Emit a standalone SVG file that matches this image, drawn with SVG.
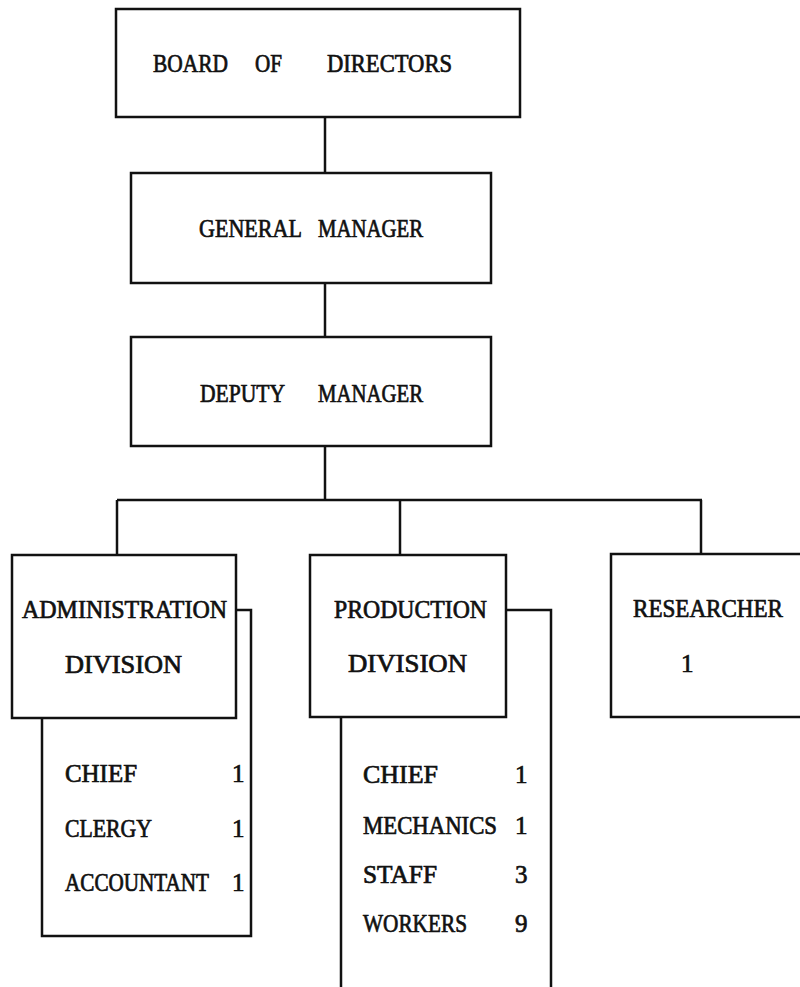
<svg xmlns="http://www.w3.org/2000/svg" width="800" height="987" viewBox="0 0 800 987">
  <style>
    .box { fill: none; stroke: #111; stroke-width: 2.5; }
    .wire { fill: none; stroke: #111; stroke-width: 2.5; }
    .lbl { font-family: "Liberation Serif", "DejaVu Serif", serif; font-size: 25px; fill: #111; stroke: #111; stroke-width: 0.7; }
    .tight { font-size: 22px; stroke-width: 0.65; }
  </style>
  <rect width="800" height="987" fill="#fff"/>

  <!-- connectors -->
  <g id="connectors">
    <path class="wire" d="M325 117 V173"/>
    <path class="wire" d="M325 283 V337"/>
    <path class="wire" d="M325 446 V500"/>
    <path class="wire" d="M117 500 H702"/>
    <path class="wire" d="M117 500 V555"/>
    <path class="wire" d="M400 500 V555"/>
    <path class="wire" d="M701 500 V554"/>
  </g>

  <g id="board">
    <rect class="box" x="116" y="9" width="404" height="108"/>
    <text class="lbl" x="153" y="72" textLength="75" lengthAdjust="spacingAndGlyphs">BOARD</text>
    <text class="lbl" x="255" y="72" textLength="27" lengthAdjust="spacingAndGlyphs">OF</text>
    <text class="lbl" x="327" y="72" textLength="125" lengthAdjust="spacingAndGlyphs">DIRECTORS</text>
  </g>

  <g id="general-manager">
    <rect class="box" x="131" y="173" width="360" height="110"/>
    <text class="lbl" x="199" y="237" textLength="103" lengthAdjust="spacingAndGlyphs">GENERAL</text>
    <text class="lbl" x="318" y="237" textLength="105" lengthAdjust="spacingAndGlyphs">MANAGER</text>
  </g>

  <g id="deputy-manager">
    <rect class="box" x="131" y="337" width="360" height="109"/>
    <text class="lbl" x="200" y="402" textLength="85" lengthAdjust="spacingAndGlyphs">DEPUTY</text>
    <text class="lbl" x="318" y="402" textLength="105" lengthAdjust="spacingAndGlyphs">MANAGER</text>
  </g>

  <g id="admin-division">
    <!-- staff list panel hanging from the division box -->
    <path class="box" d="M236 610 H251 V936 H42 V718"/>
    <rect class="box" x="12" y="555" width="224" height="163"/>
    <text class="lbl" x="22" y="618" textLength="205" lengthAdjust="spacingAndGlyphs">ADMINISTRATION</text>
    <text class="lbl" x="65" y="673" textLength="117" lengthAdjust="spacingAndGlyphs">DIVISION</text>
    <text class="lbl" x="65" y="782" textLength="72" lengthAdjust="spacingAndGlyphs">CHIEF</text>
    <text class="lbl" x="65" y="837" textLength="87" lengthAdjust="spacingAndGlyphs">CLERGY</text>
    <!-- long word set smaller and stretched vertically so it fits before the count column -->
    <text class="lbl tight" transform="translate(65 891) scale(1 1.13)" textLength="144" lengthAdjust="spacingAndGlyphs">ACCOUNTANT</text>
    <text class="lbl" x="232" y="782">1</text>
    <text class="lbl" x="232" y="837">1</text>
    <text class="lbl" x="232" y="891">1</text>
  </g>

  <g id="production-division">
    <path class="box" d="M506 610 H551 V990 M341 990 V717"/>
    <rect class="box" x="310" y="555" width="196" height="162"/>
    <text class="lbl" x="334" y="618" textLength="153" lengthAdjust="spacingAndGlyphs">PRODUCTION</text>
    <text class="lbl" x="348" y="672" textLength="119" lengthAdjust="spacingAndGlyphs">DIVISION</text>
    <text class="lbl" x="363" y="783" textLength="75" lengthAdjust="spacingAndGlyphs">CHIEF</text>
    <text class="lbl" x="363" y="834" textLength="134" lengthAdjust="spacingAndGlyphs">MECHANICS</text>
    <text class="lbl" x="363" y="883" textLength="74" lengthAdjust="spacingAndGlyphs">STAFF</text>
    <text class="lbl" x="363" y="932" textLength="104" lengthAdjust="spacingAndGlyphs">WORKERS</text>
    <text class="lbl" x="515" y="783">1</text>
    <text class="lbl" x="515" y="834">1</text>
    <text class="lbl" x="515" y="883">3</text>
    <text class="lbl" x="515" y="932">9</text>
  </g>

  <g id="researcher">
    <path class="box" d="M805 554 H611 V717 H805"/>
    <text class="lbl" x="633" y="617" textLength="150" lengthAdjust="spacingAndGlyphs">RESEARCHER</text>
    <text class="lbl" x="681" y="672">1</text>
  </g>
</svg>
